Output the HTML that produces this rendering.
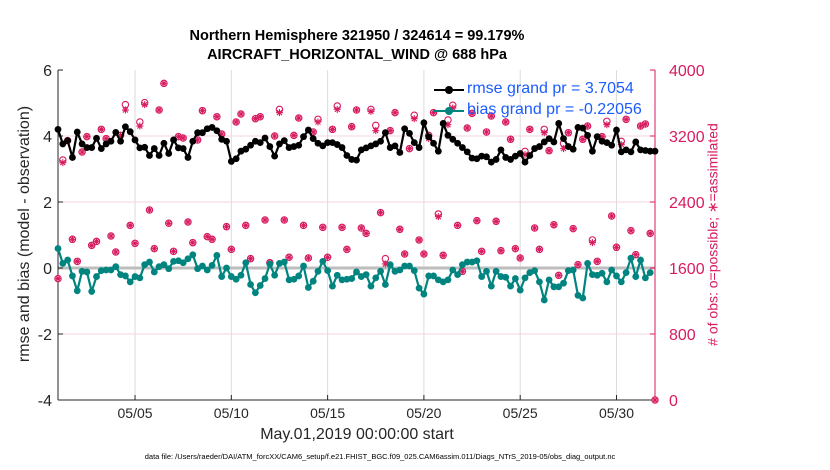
<!DOCTYPE html>
<html><head><meta charset="utf-8"><style>
body{margin:0;background:#fff;}
svg{display:block;font-family:"Liberation Sans",sans-serif;}
</style></head><body>
<svg id="chart" width="830" height="470" viewBox="0 0 830 470">
<g id="grid"></g>
<g id="axes"></g>
<g id="series"></g>
</svg>
<script>
const rmse=[4.2,3.76,3.86,3.35,4.12,3.76,3.65,3.65,3.93,3.62,3.76,3.84,4.11,3.84,4.28,4.13,3.88,3.64,3.66,3.41,3.62,3.41,3.78,3.47,3.88,3.64,3.62,3.35,3.84,4.1,4.1,4.22,4.26,4.16,3.9,3.84,3.23,3.31,3.54,3.6,3.72,3.84,3.8,3.94,3.68,3.39,3.76,3.86,3.65,3.68,3.72,3.98,4.18,3.92,3.78,3.7,3.8,3.8,3.74,3.65,3.41,3.29,3.27,
3.58,3.64,3.7,3.76,3.84,4.1,3.65,3.7,3.5,4.22,4.08,3.8,3.65,4.4,3.98,3.78,3.54,4.38,4.02,3.9,3.78,3.65,3.52,3.33,3.31,3.39,3.37,3.21,3.29,3.58,3.35,3.29,3.39,3.47,3.21,3.41,3.62,3.68,3.82,3.92,3.82,4.38,3.92,3.68,3.6,4.26,4.24,4.02,3.54,3.98,3.84,3.8,3.72,4.18,3.52,3.58,3.52,3.82,3.58,3.56,3.54,3.54];
const bias=[0.59,0.14,0.24,-0.24,-0.69,-0.1,-0.12,-0.71,-0.26,-0.08,-0.06,-0.06,0.04,-0.2,-0.24,-0.42,-0.26,-0.3,0.1,0.18,-0.12,0.04,0.1,-0.02,0.2,0.22,0.16,0.28,0.4,-0.02,0.06,-0.06,0.08,0.38,-0.26,0.0,-0.26,-0.34,-0.22,0.16,-0.5,-0.75,-0.53,-0.32,0.12,-0.22,0.14,0.18,-0.36,-0.34,-0.24,0.06,-0.59,-0.4,-0.1,0.2,-0.08,-0.55,-0.22,-0.36,-0.34,-0.32,-0.12,
-0.26,-0.2,-0.55,-0.3,-0.1,-0.5,0.1,-0.1,-0.06,0.06,0.06,-0.08,-0.61,-0.79,-0.24,-0.24,-0.36,-0.42,-0.36,-0.06,-0.2,0.1,0.18,0.18,0.22,-0.26,-0.1,-0.55,-0.1,-0.26,-0.28,-0.55,-0.32,-0.67,-0.3,-0.14,-0.08,-0.42,-0.97,-0.36,-0.57,-0.57,-0.46,-0.08,-0.06,-0.83,-0.91,0.14,-0.2,-0.22,-0.16,-0.42,-0.06,-0.24,-0.42,-0.14,0.3,-0.26,0.24,-0.3,-0.14];
const possible=[1471,2909,3144,1948,1681,3006,3192,1875,1923,3281,3168,1988,1794,3208,3580,2117,1899,3370,3604,2303,1835,3515,3838,2142,1802,3192,3176,2158,1907,3152,3507,1980,1948,3434,3224,2101,1826,3370,3467,2117,1713,3410,3434,2182,1665,3200,3523,2182,1730,3208,3418,2117,1721,3249,3402,2093,1730,3281,3564,2093,1826,3313,3515,
2085,2020,3523,3329,2271,1713,3265,3483,2069,1770,3047,3451,1940,1770,3208,3483,2255,1754,3394,3572,2117,1560,3297,3475,2174,1802,3249,3442,2166,1810,3370,3160,1835,1721,3014,3281,2085,1826,3281,3022,2125,1511,3111,3240,2077,1641,3160,3321,1940,1681,3192,3378,2230,1851,3135,3402,2053,1762,3321,3346,2020,0];
const assimilated=[1471,2877,3144,1948,1681,3006,3192,1875,1923,3281,3168,1988,1794,3208,3515,2117,1899,3321,3580,2303,1835,3515,3838,2142,1802,3192,3176,2158,1907,3152,3507,1980,1948,3434,3224,2101,1826,3370,3467,2117,1713,3410,3434,2182,1665,3200,3483,2182,1730,3208,3418,2117,1721,3249,3370,2093,1730,3281,3523,2093,1826,3313,3515,
2085,2020,3499,3265,2271,1649,3265,3483,2069,1770,3047,3410,1940,1770,3168,3483,2222,1754,3337,3539,2117,1560,3297,3475,2174,1802,3249,3442,2166,1810,3370,3160,1835,1721,2974,3281,2085,1826,3240,3022,2125,1511,3047,3240,2077,1641,3160,3321,1907,1681,3192,3337,2230,1851,3095,3402,2053,1762,3321,3346,2020,0];
const leftTicks=[-4,-2,0,2,4,6];
const rightTicks=[0,800,1600,2400,3200,4000];
const dateTicks=[4,9,14,19,24,29];
const dateLabels=["05/05","05/10","05/15","05/20","05/25","05/30"];
const stepDays=0.25;

const X0=58,X1=655,Y0=400,Y1=70;
const xs=d=>X0+d/31*(X1-X0);
const yl=v=>Y0-(v+4)/10*(Y0-Y1);
const yr=v=>Y0-v/4000*(Y0-Y1);
const NS="http://www.w3.org/2000/svg";
function mk(t,a,p){const e=document.createElementNS(NS,t);for(const k in a)e.setAttribute(k,a[k]);p.appendChild(e);return e;}
const grid=document.getElementById('grid'),axes=document.getElementById('axes'),ser=document.getElementById('series');

dateTicks.forEach((d,i)=>{
 const l=mk('line',{x1:xs(d),x2:xs(d),y1:Y1,y2:Y0,stroke:'#dcdcdc','stroke-width':1},grid);
 
 
 const t=mk('text',{x:xs(d),y:Y0+18,'text-anchor':'middle','font-size':14,fill:'#262626'},axes);
 t.textContent=dateLabels[i];
 
 
 mk('line',{x1:xs(d),x2:xs(d),y1:Y0,y2:Y0-5,stroke:'#262626'},axes);
});
rightTicks.forEach(v=>{
 if(v>0&&v<4000){const g=mk('line',{x1:X0,x2:X1,y1:yr(v),y2:yr(v),stroke:'#f0d4de','stroke-width':1},grid);
 
 }
 const t=mk('text',{x:X1+14,y:yr(v)+6,'font-size':16,fill:'#d81b60'},axes);
 t.textContent=v;
 
 
 mk('line',{x1:X1,x2:X1-5,y1:yr(v),y2:yr(v),stroke:'#d81b60'},axes);
});
leftTicks.forEach(v=>{
 const t=mk('text',{x:X0-6,y:yl(v)+6,'text-anchor':'end','font-size':16,fill:'#262626'},axes);
 t.textContent=v;
 
 
 mk('line',{x1:X0,x2:X0+5,y1:yl(v),y2:yl(v),stroke:'#262626'},axes);
});
const zl=mk('line',{x1:X0,x2:X1,y1:yl(0),y2:yl(0),stroke:'#bdbdbd','stroke-width':3},grid);


mk('line',{x1:X0,x2:X0,y1:Y1,y2:Y0,stroke:'#262626'},axes);
mk('line',{x1:X0,x2:X1,y1:Y0,y2:Y0,stroke:'#262626'},axes);
mk('line',{x1:X1,x2:X1,y1:Y1,y2:Y0,stroke:'#d81b60'},axes);

possible.forEach((v,i)=>{
 const d=i<124?i*stepDays:31;
 const c=mk('circle',{cx:xs(d),cy:yr(v),r:3.2,fill:'none',stroke:'#d81b60','stroke-width':1.1},ser);
 
 
});
assimilated.forEach((v,i)=>{
 const d=i<124?i*stepDays:31;
 const x=xs(d),y=yr(v),r=3.5;
 const s=mk('path',{d:`M${x-r} ${y}H${x+r}M${x} ${y-r}V${y+r}M${x-2.5} ${y-2.5}L${x+2.5} ${y+2.5}M${x-2.5} ${y+2.5}L${x+2.5} ${y-2.5}`,stroke:'#d81b60','stroke-width':1.1},ser);
 
 
});
function line(arr,col,name){
 const pts=arr.map((v,i)=>xs(i*stepDays)+','+yl(v)).join(' ');
 const p=mk('polyline',{points:pts,fill:'none',stroke:col,'stroke-width':2.2},ser);
 
 
 arr.forEach((v,i)=>{
  const c=mk('circle',{cx:xs(i*stepDays),cy:yl(v),r:3.4,fill:col},ser);
  
  
 });
}
line(rmse,'#000','rmse');
line(bias,'#00847f','bias');
</script>
<div style="position:absolute;left:0;top:0;width:830px;height:470px;pointer-events:none;font-family:'Liberation Sans',sans-serif;">
 <div style="position:absolute;left:157px;width:400px;top:27px;text-align:center;font-weight:bold;font-size:14.5px;line-height:19px;color:#000;">Northern Hemisphere 321950 / 324614 = 99.179%<br>AIRCRAFT_HORIZONTAL_WIND @ 688 hPa</div>
 <div style="position:absolute;left:200px;width:314px;top:426px;text-align:center;font-size:16px;color:#262626;">May.01,2019 00:00:00 start</div>
 <div style="position:absolute;left:100px;width:560px;top:452px;text-align:center;font-size:7.5px;color:#000;">data file: /Users/raeder/DAI/ATM_forcXX/CAM6_setup/f.e21.FHIST_BGC.f09_025.CAM6assim.011/Diags_NTrS_2019-05/obs_diag_output.nc</div>
 <div style="position:absolute;left:-120px;width:290px;top:225px;text-align:center;font-size:16px;color:#262626;transform:rotate(-90deg);">rmse and bias (model - observation)</div>
 <div style="position:absolute;left:563px;width:300px;top:226px;text-align:center;font-size:14px;color:#d81b60;transform:rotate(-90deg);white-space:nowrap;"># of obs: o=possible; ∗=assimilated</div>
 <div style="position:absolute;left:432px;top:80px;width:222px;height:44px;">
  <div style="position:absolute;left:0;top:0;height:20px;width:222px;">
   <div style="position:absolute;left:2px;top:9px;width:30px;height:2.2px;background:#000;"></div>
   <div style="position:absolute;left:13px;top:6px;width:8px;height:8px;border-radius:4px;background:#000;"></div>
   <span style="position:absolute;left:35px;top:0;font-size:16px;color:#1a5cff;white-space:nowrap;">rmse grand pr = 3.7054</span>
  </div>
  <div style="position:absolute;left:0;top:20px;height:20px;width:222px;">
   <div style="position:absolute;left:2px;top:10px;width:30px;height:2.2px;background:#00847f;"></div>
   <div style="position:absolute;left:13px;top:7px;width:8px;height:8px;border-radius:4px;background:#00847f;"></div>
   <span style="position:absolute;left:35px;top:1px;font-size:16px;color:#1a5cff;white-space:nowrap;">bias grand pr = -0.22056</span>
  </div>
 </div>
</div>
</body></html>
